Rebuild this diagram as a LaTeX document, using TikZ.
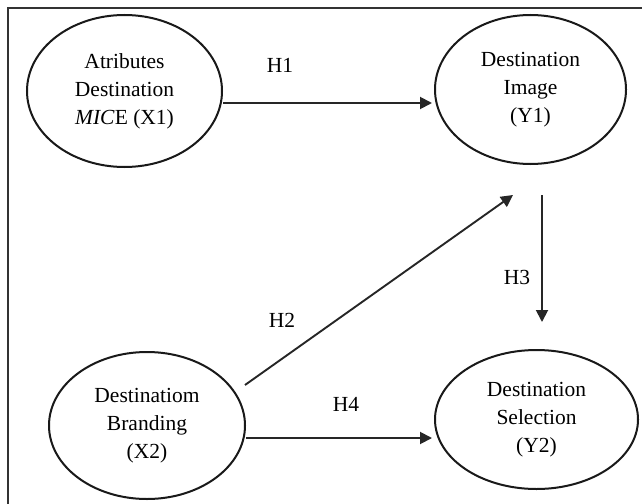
\documentclass[tikz,border=0pt]{standalone}
\usepackage{fontspec}
\setmainfont{Liberation Serif}
\usetikzlibrary{arrows.meta,shapes.geometric}
\begin{document}
\begin{tikzpicture}[x=1pt,y=-1pt,
  var/.style={draw=black!90,line width=2pt,ellipse,align=center,font=\fontsize{21.5}{28}\selectfont,inner sep=0pt},
  conn/.style={draw=black!85,line width=1.9pt,-{Triangle[length=12pt,width=12pt]}},
  hlab/.style={font=\fontsize{21.5}{25}\selectfont}]
\useasboundingbox (0,0) rectangle (642,503);
\draw[black!80,line width=2.2pt] (8,8) rectangle (660,520);
\node[var,minimum width=195pt,minimum height=152pt] (x1) at (124.5,91) {Atributes\\Destination\\\textit{MIC}E (X1)};
\node[var,minimum width=191pt,minimum height=149pt] (y1) at (530.5,89.5) {Destination\\Image\\(Y1)};
\node[var,minimum width=196pt,minimum height=147pt] (x2) at (147,425.5) {Destinatiom\\Branding\\(X2)};
\node[var,minimum width=203pt,minimum height=139pt] (y2) at (536.5,419.5) {Destination\\Selection\\(Y2)};
\coordinate (h2e) at (513,195);
\coordinate (h3s) at (542,195);
\coordinate (h3e) at (542,322);
\coordinate (h2s) at (245,385);
\coordinate (h1e) at (432,103);
\coordinate (h4e) at (432,438);
\draw[conn] (x1.east |- h1e) -- (h1e);
\draw[conn] (h2s) -- (h2e);
\draw[conn] (h3s) -- (h3e);
\draw[conn] (x2.east |- h4e) -- (h4e);
\node[hlab] (l1) at (280,65) {H1};
\node[hlab] (l2) at (282,320) {H2};
\node[hlab] (l3) at (517,277) {H3};
\node[hlab] (l4) at (346,404) {H4};
\end{tikzpicture}
\end{document}
